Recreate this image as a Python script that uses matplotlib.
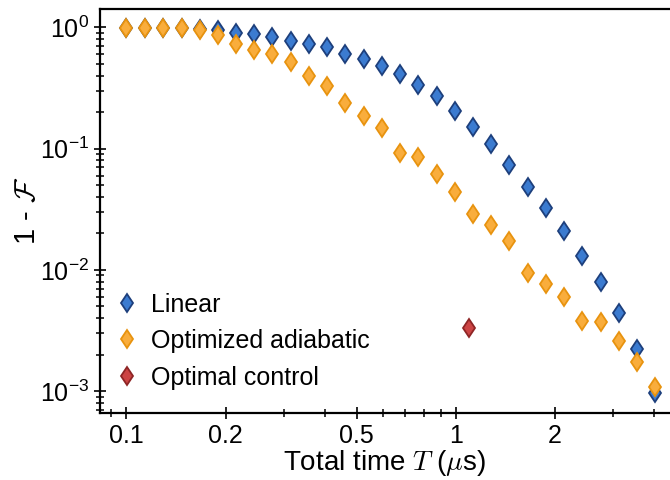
import math

import matplotlib

matplotlib.use("Agg")
import matplotlib.pyplot as plt
from matplotlib.ticker import FixedLocator, FixedFormatter, LogLocator, NullFormatter, FuncFormatter

# total time T (us) at which each protocol was evaluated
T = [0.1, 0.114, 0.129, 0.147, 0.167, 0.189, 0.215, 0.244, 0.277, 0.315,
     0.358, 0.407, 0.462, 0.525, 0.596, 0.677, 0.769, 0.874, 0.992, 1.127,
     1.281, 1.455, 1.653, 1.877, 2.133, 2.423, 2.752, 3.127, 3.552, 4.03]

# infidelity 1 - F
linear = [0.99, 0.99, 0.99, 0.99, 0.975, 0.957, 0.904, 0.876, 0.832, 0.771,
          0.734, 0.681, 0.607, 0.545, 0.481, 0.408, 0.333, 0.270, 0.205, 0.151,
          0.109, 0.0736, 0.0485, 0.0322, 0.0209, 0.0130, 0.00792, 0.00440, 0.00224, 0.000966]
optimized = [0.99, 0.99, 0.99, 0.985, 0.957, 0.870, 0.734, 0.647, 0.600, 0.518,
             0.395, 0.327, 0.238, 0.185, 0.147, 0.0924, 0.0846, 0.0613, 0.0441, 0.0289,
             0.0235, 0.0174, 0.00939, 0.00767, 0.00596, 0.00383, 0.00375, 0.00262, 0.00174, 0.00108]
optimal_T = [1.1]
optimal = [0.00331]

plt.rcParams["font.family"] = ["Liberation Sans", "DejaVu Sans"]
plt.rcParams["mathtext.fontset"] = "cm"

fig = plt.figure(figsize=(6.7, 4.8), dpi=100)
ax = fig.add_axes([0.149, 0.14, 0.851, 0.841])

ms = 9.5
ax.plot(T, linear, "d", ms=ms, mfc="#3b7bd0", mec="#1d3f7c", mew=1.3, label="Linear")
ax.plot(T, optimized, "d", ms=ms, mfc="#f9ad3c", mec="#e8930f", mew=1.3, label="Optimized adiabatic")
ax.plot(optimal_T, optimal, "d", ms=ms, mfc="#cc4444", mec="#8e2525", mew=1.3, label="Optimal control")

ax.set_xscale("log")
ax.set_yscale("log")
ax.set_xlim(0.083, 4.47)
ax.set_ylim(6.65e-4, 1.41)

ax.xaxis.set_major_locator(FixedLocator([0.1, 0.2, 0.5, 1, 2]))
ax.xaxis.set_major_formatter(FixedFormatter(["0.1", "0.2", "0.5", "1", "2"]))
ax.xaxis.set_minor_locator(FixedLocator([0.09, 0.3, 0.4, 0.6, 0.7, 0.8, 0.9, 3, 4]))
ax.xaxis.set_minor_formatter(NullFormatter())

ax.yaxis.set_major_locator(LogLocator(base=10, numticks=10))
ax.yaxis.set_minor_locator(LogLocator(base=10, subs=range(2, 10), numticks=20))
ax.yaxis.set_major_formatter(FuncFormatter(
    lambda v, _: r"$\mathregular{10^{%d}}$" % round(math.log10(v))))
ax.yaxis.set_minor_formatter(NullFormatter())

ax.tick_params(which="major", direction="inout", length=8, width=1.2, labelsize=18, pad=4)
ax.tick_params(which="minor", direction="inout", length=6, width=1.1)
for side in ("left", "bottom", "top"):
    ax.spines[side].set_linewidth(1.6)
ax.spines["right"].set_visible(False)

ax.set_xlabel(r"Total time $T$ ($\mu$s)", fontsize=20, labelpad=0)
ax.set_ylabel(r"1 - $\mathcal{F}$", fontsize=21, labelpad=-1)

ax.legend(loc="lower left", bbox_to_anchor=(-0.005, 0.008), frameon=False, fontsize=18,
          handletextpad=0.55, labelspacing=0.5, borderaxespad=0.4, handlelength=0.8)

fig.savefig("out.png", dpi=100)
